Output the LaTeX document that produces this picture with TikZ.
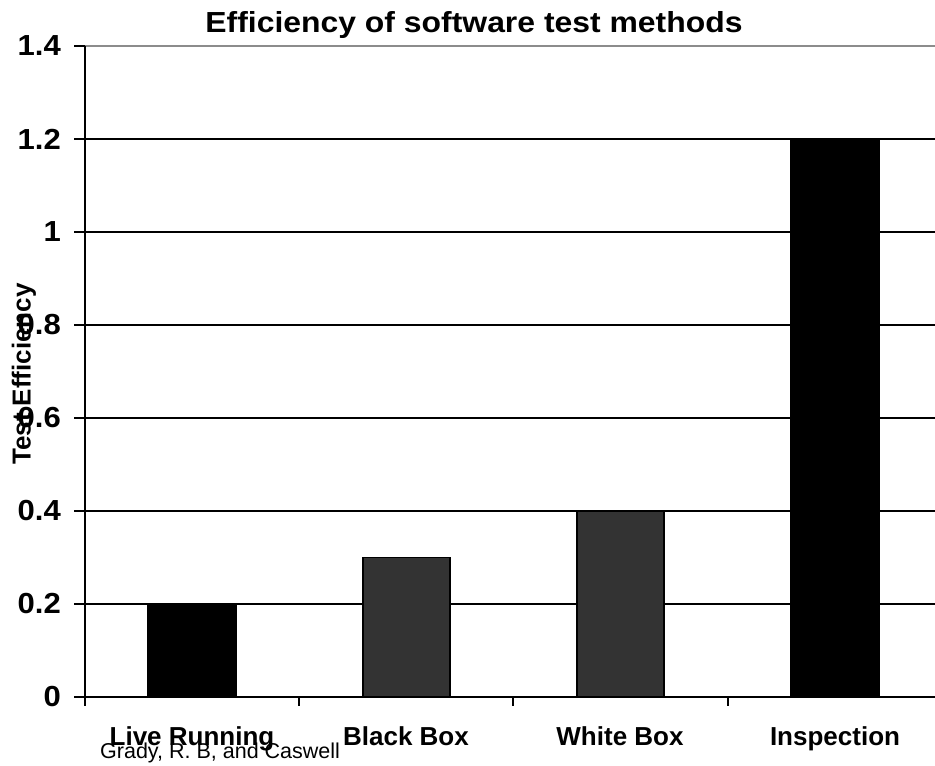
\documentclass[tikz,border=0pt]{standalone}
\usepackage{fontspec}
\setmainfont{Liberation Sans}
\usepackage{xcolor}
\usetikzlibrary{positioning}
\definecolor{bardark}{HTML}{333333}
\definecolor{topgrid}{HTML}{8C8C8C}

\begin{document}
\begin{tikzpicture}[x=1pt,y=1pt,
  gridline/.style={line width=2.2pt},
  barbox/.style={draw=black,line width=1.3pt},
  ticklabel/.style={font=\fontsize{29}{29}\selectfont\bfseries,anchor=east,inner sep=0pt,xscale=1.07},
  catlabel/.style={font=\fontsize{26}{26}\selectfont\bfseries,anchor=base,inner sep=0pt}]
\useasboundingbox (0,0) rectangle (935,766);
%%%%%%%%%%%%%% axis corners
\coordinate (o) at (85,69);
\coordinate (xend) at (935,69);
\coordinate (ytop) at (85,720);
\coordinate (ybot) at (85,60);
%%%%%%%%%%%%%% grid
\coordinate (g2) at (85,162);   \coordinate (g2e) at (935,162);
\coordinate (g4) at (85,255);   \coordinate (g4e) at (935,255);
\coordinate (g6) at (85,348);   \coordinate (g6e) at (935,348);
\coordinate (g8) at (85,441);   \coordinate (g8e) at (935,441);
\coordinate (g10) at (85,534);  \coordinate (g10e) at (935,534);
\coordinate (g12) at (85,627);  \coordinate (g12e) at (935,627);
\coordinate (g14e) at (935,720);
\draw[gridline] (g2) -- (g2e);
\draw[gridline] (g4) -- (g4e);
\draw[gridline] (g6) -- (g6e);
\draw[gridline] (g8) -- (g8e);
\draw[gridline] (g10) -- (g10e);
\draw[gridline] (g12) -- (g12e);
\draw[gridline,topgrid] (ytop) -- (g14e);
%%%%%%%%%%%%%% bars
\draw[barbox,fill=black] (148,69) rectangle (236,162);
\draw[barbox,fill=bardark] (363,69) rectangle (450,208.5);
\draw[barbox,fill=bardark] (577,69) rectangle (664,255);
\draw[barbox,fill=black] (791,69) rectangle (879,627);
%%%%%%%%%%%%%% axes and ticks
\draw[gridline] (ytop) -- (ybot);
\draw[gridline] (74,69) -- (xend);
\draw[gridline] (ytop) -- ++(-11,0);
\draw[gridline] (g2) -- ++(-11,0);
\draw[gridline] (g4) -- ++(-11,0);
\draw[gridline] (g6) -- ++(-11,0);
\draw[gridline] (g8) -- ++(-11,0);
\draw[gridline] (g10) -- ++(-11,0);
\draw[gridline] (g12) -- ++(-11,0);
\coordinate (c1) at (299,69);
\coordinate (c2) at (513,69);
\coordinate (c3) at (728,69);
\draw[gridline] (c1) -- ++(0,-9);
\draw[gridline] (c2) -- ++(0,-9);
\draw[gridline] (c3) -- ++(0,-9);
%%%%%%%%%%%%%% tick labels
\node[ticklabel] (l0) at (61,69) {0};
\node[ticklabel] (l2) at (61,162) {0.2};
\node[ticklabel] (l4) at (61,255) {0.4};
\node[ticklabel] (l6) at (61,348) {0.6};
\node[ticklabel] (l8) at (61,441) {0.8};
\node[ticklabel] (l10) at (61,534) {1};
\node[ticklabel] (l12) at (61,627) {1.2};
\node[ticklabel] (l14) at (61,720) {1.4};
%%%%%%%%%%%%%% texts
\node[catlabel] (live) at (192,20) {Live Running};
\node[catlabel] (black) at (406,20) {Black Box};
\node[catlabel] (white) at (620,20) {White Box};
\node[catlabel] (insp) at (835,20) {Inspection};
\node[font=\fontsize{21.5}{21.5}\selectfont,anchor=base west,inner sep=0pt] (cite) at (100,7) {Grady, R. B, and Caswell};
\node[font=\fontsize{29}{29}\selectfont\bfseries,anchor=base,inner sep=0pt,xscale=1.1] (title) at (474,733) {Efficiency of software test methods};
\node[font=\fontsize{26}{26}\selectfont\bfseries,rotate=90,inner sep=0pt] (ylab) at (24,392) {Test Efficiency};
\end{tikzpicture}
\end{document}
